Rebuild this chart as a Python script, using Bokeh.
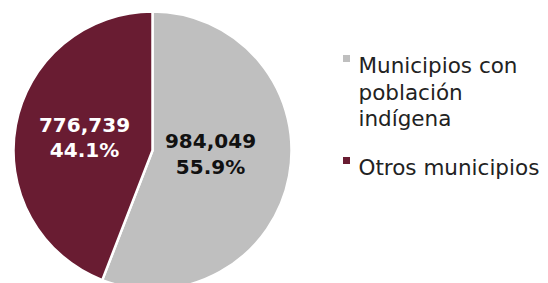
import math
from bokeh.plotting import figure
from bokeh.models import ColumnDataSource
from bokeh.core.properties import value
from bokeh.embed import file_html
from bokeh.resources import INLINE

categories = ["Municipios con población indígena", "Otros municipios"]
legend_lines = [["Municipios con", "población", "indígena"], ["Otros municipios"]]
values = [984049, 776739]
colors = ["#BFBFBF", "#691C32"]
label_colors = ["#111111", "#FFFFFF"]

W, H = 548, 283
p = figure(width=W, height=H, x_range=(0, W), y_range=(0, H),
           output_backend="svg", toolbar_location=None, min_border=0)
p.axis.visible = False
p.grid.visible = False
p.outline_line_color = None
p.background_fill_color = "white"
p.border_fill_color = "white"

def px(x):
    return x

def py(y):
    return H - y

total = sum(values)
fracs = [v / total for v in values]
starts, ends = [], []
a = math.pi / 2
for f in fracs:
    starts.append(a)
    a = a - f * 2 * math.pi
    ends.append(a)

cx, cy, r = px(152), py(150), 139
src = ColumnDataSource(dict(x=[cx] * 2, y=[cy] * 2, start=starts, end=ends, color=colors))
p.wedge(x="x", y="y", radius=r, radius_units="screen", start_angle="start", end_angle="end",
        direction="clock", fill_color="color", line_color="white", line_width=2.5, source=src)

# data labels
label_pos = [((210, 140), (210, 166)), ((84, 124), (84, 149))]
for i, v in enumerate(values):
    (x1, y1), (x2, y2) = label_pos[i]
    pct = f"{fracs[i] * 100:.1f}%"
    p.text(x=[px(x1), px(x2)], y=[py(y1), py(y2)], text=[f"{v:,}", pct],
           text_font=value("DejaVu Sans"), text_font_style="bold", text_font_size="20px",
           text_color=label_colors[i], text_align="center", text_baseline="middle")

# legend
sq_y = [58, 160]
baselines = [[65, 92, 118], [167]]
for i in range(len(categories)):
    p.scatter(x=[px(346)], y=[py(sq_y[i])], marker="square", size=7,
              fill_color=colors[i], line_color=None)
    p.text(x=[px(358)] * len(legend_lines[i]), y=[py(b) for b in baselines[i]],
           text=legend_lines[i], text_font=value("DejaVu Sans"), text_font_size="21.5px",
           text_color="#222222", text_align="left", text_baseline="alphabetic")

open("out.html", "w").write(file_html(p, INLINE))
